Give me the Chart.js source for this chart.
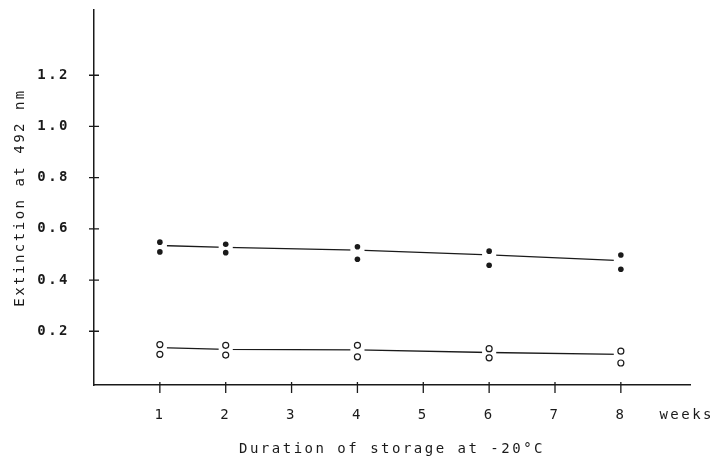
<!DOCTYPE html>
<html>
<head>
<meta charset="utf-8">
<script src="https://cdn.jsdelivr.net/npm/chart.js@4.4.1/dist/chart.umd.min.js"></script>
<style>
  html, body { margin: 0; padding: 0; background: #fff; }
  #wrap { width: 712px; height: 462px; }
</style>
</head>
<body>
<div id="wrap"><canvas id="chart"></canvas></div>
<script>
// Storage time (weeks) where samples were measured
const weeks = [1, 2, 4, 6, 8];
// Filled dots: duplicate readings (upper / lower)
const filledUpper = [0.548, 0.540, 0.530, 0.513, 0.498];
const filledLower = [0.510, 0.507, 0.481, 0.458, 0.442];
// Open circles: duplicate readings (upper / lower)
const openUpper = [0.148, 0.145, 0.145, 0.132, 0.122];
const openLower = [0.110, 0.107, 0.100, 0.096, 0.076];
// Fitted lines through each group
const filledFit = [0.535, 0.528, 0.517, 0.498, 0.476];
const openFit = [0.136, 0.129, 0.127, 0.117, 0.110];
// Axis ticks
const xTicks = [1, 2, 3, 4, 5, 6, 7, 8, 9];
const xUnitTick = 9;
const yTicks = [0.2, 0.4, 0.6, 0.8, 1.0, 1.2];

function pairs(xs, ys) {
  return xs.map((x, i) => ({ x: x, y: ys[i] }));
}

const ink = '#1a1a1a';
const mono = "'DejaVu Sans Mono', 'Liberation Mono', monospace";

// Typewriter-style spacing for all canvas text
const spacing = {
  id: 'spacing',
  beforeDraw(chart) { chart.ctx.letterSpacing = '2.5px'; },
  afterDraw(chart) { chart.ctx.letterSpacing = '0px'; }
};

// Short tick marks that cross the axes
const crossTicks = {
  id: 'crossTicks',
  afterDraw(chart) {
    const ctx = chart.ctx;
    const xs = chart.scales.x, ys = chart.scales.y;
    const area = chart.chartArea;
    ctx.save();
    ctx.strokeStyle = ink;
    ctx.lineWidth = 1.3;
    ctx.beginPath();
    xTicks.filter(v => v !== xUnitTick).forEach(v => {
      const px = xs.getPixelForValue(v);
      ctx.moveTo(px, area.bottom - 3);
      ctx.lineTo(px, area.bottom + 8);
    });
    yTicks.forEach(v => {
      const py = ys.getPixelForValue(v);
      ctx.moveTo(area.left - 5, py);
      ctx.lineTo(area.left + 5, py);
    });
    ctx.stroke();
    ctx.restore();
  }
};

new Chart(document.getElementById('chart'), {
  type: 'scatter',
  data: {
    datasets: [
      {
        label: 'filled upper',
        data: pairs(weeks, filledUpper),
        pointRadius: 2.8, pointBackgroundColor: ink, pointBorderWidth: 0
      },
      {
        label: 'filled lower',
        data: pairs(weeks, filledLower),
        pointRadius: 2.8, pointBackgroundColor: ink, pointBorderWidth: 0
      },
      {
        label: 'open upper',
        data: pairs(weeks, openUpper),
        pointRadius: 3, pointBackgroundColor: '#fff', pointBorderColor: ink, pointBorderWidth: 1.2
      },
      {
        label: 'open lower',
        data: pairs(weeks, openLower),
        pointRadius: 3, pointBackgroundColor: '#fff', pointBorderColor: ink, pointBorderWidth: 1.2
      },
      {
        type: 'line',
        label: 'filled fit',
        data: pairs(weeks, filledFit),
        showLine: true, borderColor: ink, borderWidth: 1.3,
        pointStyle: 'rect', pointRadius: 10, pointBackgroundColor: '#fff', pointBorderWidth: 0
      },
      {
        type: 'line',
        label: 'open fit',
        data: pairs(weeks, openFit),
        showLine: true, borderColor: ink, borderWidth: 1.3,
        pointStyle: 'rect', pointRadius: 10, pointBackgroundColor: '#fff', pointBorderWidth: 0
      }
    ]
  },
  options: {
    responsive: true,
    maintainAspectRatio: false,
    animation: false,
    events: [],
    layout: { padding: { top: 10, right: 22, left: 0, bottom: 0 } },
    plugins: { legend: { display: false }, tooltip: { enabled: false } },
    scales: {
      x: {
        type: 'linear',
        min: 0,
        max: 9.05,
        afterBuildTicks(scale) { scale.ticks = xTicks.map(v => ({ value: v })); },
        afterFit(scale) {
          scale.height = 77;
          scale.paddingLeft = 0;
          scale.paddingRight = 0;
        },
        grid: { display: false, drawTicks: false },
        border: { display: true, color: ink, width: 1.5 },
        ticks: {
          padding: 22,
          color: ink,
          font: { family: mono, size: 14 },
          callback: v => (v === xUnitTick ? 'weeks' : String(v))
        },
        title: {
          display: true,
          text: 'Duration of storage at -20\u00B0C',
          color: ink,
          font: { family: mono, size: 14 },
          padding: { top: 0, bottom: 4 }
        }
      },
      y: {
        type: 'linear',
        min: -0.01,
        max: 1.455,
        afterBuildTicks(scale) { scale.ticks = yTicks.map(v => ({ value: v })); },
        afterFit(scale) {
          scale.width = 94;
          scale.paddingTop = 0;
          scale.paddingBottom = 0;
        },
        grid: { display: false, drawTicks: false },
        border: { display: true, color: ink, width: 1.5 },
        ticks: {
          padding: 24,
          color: ink,
          font: { family: mono, size: 14, weight: 'bold' },
          callback: v => v.toFixed(1)
        },
        title: {
          display: true,
          text: 'Extinction at 492 nm',
          color: ink,
          font: { family: mono, size: 14 },
          padding: { top: 12, bottom: 0 }
        }
      }
    }
  },
  plugins: [spacing, crossTicks]
});
</script>
</body>
</html>
